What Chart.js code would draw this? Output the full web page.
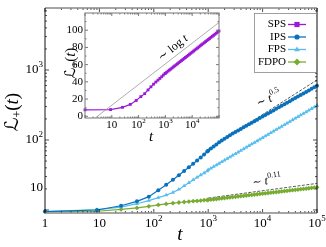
<!DOCTYPE html>
<html>
<head>
<meta charset="utf-8">
<script src="https://cdn.jsdelivr.net/npm/chart.js@4.4.0/dist/chart.umd.min.js"></script>
<style>
  html, body { margin: 0; padding: 0; background: #fff; }
  #wrap { position: relative; width: 326px; height: 247px; }
  #main { position: absolute; left: 0; top: 0; }
  #inset { position: absolute; left: 55px; top: 8px; }
</style>
</head>
<body>
<div id="wrap">
  <canvas id="main" width="326" height="247"></canvas>
  <canvas id="inset" width="170" height="140"></canvas>
</div>
<script>
// sampling times shared by every series
const times = [1, 9, 25, 49, 81, 121, 169, 225, 289, 361, 441, 529, 625, 729, 841, 961,
  1000, 1122, 1259, 1413, 1585, 1778, 1995, 2239, 2512, 2818, 3162, 3548, 3981, 4467, 5012,
  5623, 6310, 7079, 7943, 8913, 10000, 11220, 12589, 14125, 15849, 17783, 19953, 22387,
  25119, 28184, 31623, 35481, 39811, 44668, 50119, 56234, 63096, 70795, 79433, 89125, 100000];

// values
const spsValues = [7.5, 7.8, 10.4, 13.8, 18.3, 22.8, 26.3, 30.6, 34.2, 37.3, 39.8, 42.0, 44.0, 46.0, 47.9, 49.6,
  50.0, 51.2, 52.5, 53.7, 54.9, 56.1, 57.4, 58.6, 59.8, 61.0, 62.3, 63.5, 64.7, 65.9, 67.2, 68.4, 69.6,
  70.8, 72.1, 73.3, 74.5, 75.7, 77.0, 78.2, 79.4, 80.6, 81.9, 83.1, 84.3, 85.5, 86.8, 88.0, 89.2, 90.4,
  91.7, 92.9, 94.1, 95.3, 96.6, 97.8, 99.0];
const ipsValues = [9.5, 10.0, 11.5, 13.3, 15.5, 19.1, 22.9, 27.0, 31.4, 36.0, 40.7, 45.7, 50.9, 56.4, 62.1, 68.5,
  70.5, 75.5, 80.9, 86.5, 92.5, 98.4, 104.5, 110.7, 117, 123.6, 130.3, 137.1, 144.2, 151.7, 159.6, 167.9,
  176.6, 185.8, 195.4, 205.6, 216.3, 227.5, 239.3, 251.8, 264.9, 278.6, 293.1, 308.3, 324.3, 341.2, 358.9,
  377.6, 397.2, 417.8, 439.5, 462.4, 486.4, 511.7, 538.3, 566.2, 595.7];
const fpsValues = [9.5, 10.1, 11.0, 12.3, 13.6, 15.0, 16.3, 17.8, 19.7, 22.1, 24.5, 26.9, 29.3, 31.6, 33.8, 36.1,
  37.4, 39.4, 41.6, 43.9, 46.2, 48.8, 51.4, 54.2, 57.1, 60.3, 63.5, 67.0, 70.6, 74.5, 78.5, 82.8, 87.3,
  92.0, 97.0, 102.3, 107.9, 113.8, 119.9, 126.5, 133.4, 140.6, 148.3, 156.3, 164.8, 173.8, 183.2, 193.2,
  203.7, 214.8, 226.5, 238.8, 251.8, 265.5, 279.9, 295.1, 311.2];
const fdpoValues = [9.5, 9.6, 10.2, 10.7, 11.3, 11.8, 12.2, 12.5, 12.8, 13.0, 13.2, 13.35, 13.5, 13.65, 13.8, 13.9,
  13.93, 14.08, 14.22, 14.37, 14.52, 14.67, 14.83, 14.98, 15.14, 15.30, 15.45, 15.62, 15.78, 15.94, 16.11,
  16.28, 16.44, 16.62, 16.79, 16.96, 17.14, 17.32, 17.50, 17.68, 17.86, 18.05, 18.24, 18.43, 18.62, 18.81,
  19.01, 19.20, 19.41, 19.61, 19.82, 20.02, 20.23, 20.44, 20.65, 20.87, 21.09];

// guide lines
const halfGuideT = [1000, 100000];
const halfGuideL = [74, 720];
const slowGuideT = [1000, 100000];
const slowGuideL = [14.8, 24.0];
const logGuideT = [2.4, 100000];
const logGuideL = [-2, 109];

// tick labels [base, exponent]
const mainXTicks = [1, 10, 100, 1000, 10000, 100000];
const mainXLabels = [['1', ''], ['10', ''], ['10', '2'], ['10', '3'], ['10', '4'], ['10', '5']];
// the reference prints its "10" beside the 20 tick, so the label sits there
const mainYTicks = [21, 100, 1000];
const mainYLabels = [['10', ''], ['10', '2'], ['10', '3']];
const insetXTicks = [10, 100, 1000, 10000];
const insetXLabels = [['10', ''], ['10', '2'], ['10', '3'], ['10', '4']];
const insetYTicks = [0, 20, 40, 60, 80, 100];

const seriesNames = ['SPS', 'IPS', 'FPS', 'FDPO'];
const seriesColors = ['#9a1ad6', '#0a72bd', '#56bdee', '#77ac30'];
const seriesMarkers = ['rect', 'circle', 'triangle', 'rectRot'];

const SERIF = '"Liberation Serif", "DejaVu Serif", serif';
const toXY = (ts, vs) => ts.map((t, i) => ({x: t, y: vs[i]}));

function logTicks(min, max) {
  const major = [], minor = [];
  for (let e = Math.floor(Math.log10(min)); e <= Math.ceil(Math.log10(max)); e++) {
    for (let m = 1; m < 10; m++) {
      const v = m * Math.pow(10, e);
      if (v < min * 0.999 || v > max * 1.001) continue;
      (m === 1 ? major : minor).push(v);
    }
  }
  return {major, minor};
}

// draws a row of text pieces (for exponents, italics) around x,y
function richText(ctx, parts, x, y, align, rot) {
  ctx.save();
  ctx.translate(x, y);
  if (rot) ctx.rotate(rot * Math.PI / 180);
  let w = 0;
  parts.forEach(p => { ctx.font = p.f; p.w = ctx.measureText(p.t).width; w += p.w; });
  let cx = align === 'right' ? -w : align === 'left' ? 0 : -w / 2;
  ctx.textBaseline = 'middle';
  ctx.textAlign = 'left';
  ctx.fillStyle = '#000';
  parts.forEach(p => { ctx.font = p.f; ctx.fillText(p.t, cx, p.dy || 0); cx += p.w; });
  ctx.restore();
}

function powLabel(lab, size) {
  const parts = [{t: lab[0], f: size + 'px ' + SERIF}];
  if (lab[1]) parts.push({t: lab[1], f: Math.round(size * 0.68) + 'px ' + SERIF, dy: -size * 0.38});
  return parts;
}

function drawMarker(ctx, style, x, y, r, color) {
  ctx.fillStyle = color;
  ctx.beginPath();
  if (style === 'rect') ctx.rect(x - r, y - r, 2 * r, 2 * r);
  else if (style === 'circle') ctx.arc(x, y, r, 0, Math.PI * 2);
  else if (style === 'triangle') { ctx.moveTo(x, y - r * 1.2); ctx.lineTo(x + r * 1.1, y + r * 0.7); ctx.lineTo(x - r * 1.1, y + r * 0.7); ctx.closePath(); }
  else { ctx.moveTo(x, y - r * 1.3); ctx.lineTo(x + r * 1.3, y); ctx.lineTo(x, y + r * 1.3); ctx.lineTo(x - r * 1.3, y); ctx.closePath(); }
  ctx.fill();
}

function frameTicks(ctx, a, x, y, xt, yt, big, small, color) {
  ctx.strokeStyle = color;
  ctx.lineWidth = 0.8;
  ctx.beginPath();
  const tx = (v, len) => {
    const p = x.getPixelForValue(v);
    ctx.moveTo(p, a.bottom); ctx.lineTo(p, a.bottom - len);
    ctx.moveTo(p, a.top); ctx.lineTo(p, a.top + len);
  };
  const ty = (v, len) => {
    const p = y.getPixelForValue(v);
    ctx.moveTo(a.left, p); ctx.lineTo(a.left + len, p);
    ctx.moveTo(a.right, p); ctx.lineTo(a.right - len, p);
  };
  xt.major.forEach(v => tx(v, big)); xt.minor.forEach(v => tx(v, small));
  yt.major.forEach(v => ty(v, big)); yt.minor.forEach(v => ty(v, small));
  ctx.stroke();
}

const mainDecor = {
  id: 'mainDecor',
  afterDraw(chart) {
    const {ctx, chartArea: a, scales: {x, y}} = chart;
    ctx.save();
    frameTicks(ctx, a, x, y, logTicks(x.min, x.max), logTicks(y.min, y.max), 4, 2, '#222');
    // frame
    ctx.strokeStyle = '#888'; ctx.lineWidth = 1.6;
    ctx.beginPath();
    ctx.moveTo(a.left, a.top); ctx.lineTo(a.right, a.top);
    ctx.moveTo(a.left, a.bottom); ctx.lineTo(a.right, a.bottom);
    ctx.stroke();
    ctx.strokeStyle = '#111'; ctx.lineWidth = 1;
    ctx.beginPath();
    ctx.moveTo(a.left, a.top); ctx.lineTo(a.left, a.bottom);
    ctx.moveTo(a.right, a.top); ctx.lineTo(a.right, a.bottom);
    ctx.stroke();

    mainXTicks.forEach((v, i) => richText(ctx, powLabel(mainXLabels[i], 13), x.getPixelForValue(v), a.bottom + 11, 'center'));
    mainYTicks.forEach((v, i) => richText(ctx, powLabel(mainYLabels[i], 13), a.left - 2, y.getPixelForValue(v), 'right'));

    // axis titles
    richText(ctx, [{t: 't', f: 'italic 19px ' + SERIF}], 180, 235, 'center');
    richText(ctx, [
      {t: 'ℒ', f: '19px "DejaVu Serif", "DejaVu Sans", serif'},
      {t: '+', f: '12px ' + SERIF, dy: 5},
      {t: '(', f: '19px ' + SERIF},
      {t: 't', f: 'italic 19px ' + SERIF},
      {t: ')', f: '19px ' + SERIF}
    ], 13, 112, 'center', -90);

    // guide labels
    richText(ctx, [
      {t: '∼ ', f: '11px ' + SERIF}, {t: 't', f: 'italic 12px ' + SERIF},
      {t: '0.5', f: '8px ' + SERIF, dy: -5}
    ], 269, 99, 'center', -24);
    richText(ctx, [
      {t: '∼ ', f: '11px ' + SERIF}, {t: 't', f: 'italic 12px ' + SERIF},
      {t: '0.11', f: '8px ' + SERIF, dy: -5}
    ], 267, 181, 'center', -8);

    // legend
    const lx = 254, ly = 13, lw = 62, lh = 59;
    ctx.fillStyle = '#fff';
    ctx.fillRect(lx, ly, lw, lh);
    ctx.strokeStyle = '#888'; ctx.lineWidth = 0.8;
    ctx.strokeRect(lx + 0.5, ly + 0.5, lw, lh);
    seriesNames.forEach((name, i) => {
      const yy = ly + 11.5 + i * 12.5;
      richText(ctx, [{t: name, f: '11px ' + SERIF}], lx + 32, yy, 'right');
      ctx.strokeStyle = seriesColors[i]; ctx.lineWidth = 1.3;
      ctx.beginPath(); ctx.moveTo(lx + 34, yy); ctx.lineTo(lx + 52, yy); ctx.stroke();
      drawMarker(ctx, seriesMarkers[i], lx + 43, yy, 2.6, seriesColors[i]);
    });
    ctx.restore();
  }
};

const insetDecor = {
  id: 'insetDecor',
  beforeDatasetsDraw(chart) {
    const {ctx, chartArea: a} = chart;
    ctx.save();
    ctx.fillStyle = '#fff';
    ctx.fillRect(a.left, a.top, a.right - a.left, a.bottom - a.top);
    ctx.restore();
  },
  afterDraw(chart) {
    const {ctx, chartArea: a, scales: {x, y}} = chart;
    ctx.save();
    const yt = {major: insetYTicks, minor: insetYTicks.map(v => v + 10).filter(v => v < y.max)};
    frameTicks(ctx, a, x, y, logTicks(x.min, x.max), yt, 3, 1.5, '#555');
    ctx.strokeStyle = '#777'; ctx.lineWidth = 1;
    ctx.strokeRect(a.left, a.top, a.right - a.left, a.bottom - a.top);

    insetXTicks.forEach((v, i) => richText(ctx, powLabel(insetXLabels[i], 11), x.getPixelForValue(v), a.bottom + 7, 'center'));
    insetYTicks.forEach(v => richText(ctx, [{t: String(v), f: '11px ' + SERIF}], a.left - 2, y.getPixelForValue(v), 'right'));

    richText(ctx, [{t: 't', f: 'italic 15px ' + SERIF}], 96, 129, 'center');
    richText(ctx, [
      {t: 'ℒ', f: '15px "DejaVu Serif", "DejaVu Sans", serif'},
      {t: '+', f: '10px ' + SERIF, dy: 4},
      {t: '(', f: '15px ' + SERIF},
      {t: 't', f: 'italic 15px ' + SERIF},
      {t: ')', f: '15px ' + SERIF}
    ], 16, 55, 'center', -90);
    richText(ctx, [
      {t: '∼ log ', f: '12px ' + SERIF}, {t: 't', f: 'italic 12px ' + SERIF}
    ], 118, 40, 'center', -39);
    ctx.restore();
  }
};

const lineSet = (i, vals, r) => ({
  label: seriesNames[i], data: toXY(times, vals),
  borderColor: seriesColors[i], backgroundColor: seriesColors[i],
  borderWidth: 1.2, pointStyle: seriesMarkers[i], pointRadius: r,
  pointBorderWidth: 0, clip: 3
});
const guideSet = (ts, ls, color, dash) => ({
  data: toXY(ts, ls), borderColor: color, borderWidth: 0.8,
  borderDash: dash, pointRadius: 0, clip: 0
});

new Chart(document.getElementById('main'), {
  type: 'line',
  data: {
    datasets: [
      lineSet(1, ipsValues, 2),
      lineSet(2, fpsValues, 2.4),
      lineSet(3, fdpoValues, 2.4),
      guideSet(halfGuideT, halfGuideL, '#333', [3, 1.5]),
      guideSet(slowGuideT, slowGuideL, '#333', [3, 1.5])
    ]
  },
  options: {
    responsive: false, animation: false, events: [],
    layout: {padding: {left: 45, top: 8, right: 9, bottom: 34}},
    scales: {
      x: {type: 'logarithmic', min: 1, max: 100000, display: false},
      y: {type: 'logarithmic', min: 9.06, max: 7690, display: false}
    },
    plugins: {legend: {display: false}, tooltip: {enabled: false}}
  },
  plugins: [mainDecor]
});

new Chart(document.getElementById('inset'), {
  type: 'line',
  data: {
    datasets: [
      guideSet(logGuideT, logGuideL, '#999', []),
      lineSet(0, spsValues, 2)
    ]
  },
  options: {
    responsive: false, animation: false, events: [],
    layout: {padding: {left: 30, top: 5, right: 6, bottom: 30}},
    scales: {
      x: {type: 'logarithmic', min: 1, max: 100000, display: false},
      y: {type: 'linear', min: -2, max: 120, display: false}
    },
    plugins: {legend: {display: false}, tooltip: {enabled: false}}
  },
  plugins: [insetDecor]
});
</script>
</body>
</html>
